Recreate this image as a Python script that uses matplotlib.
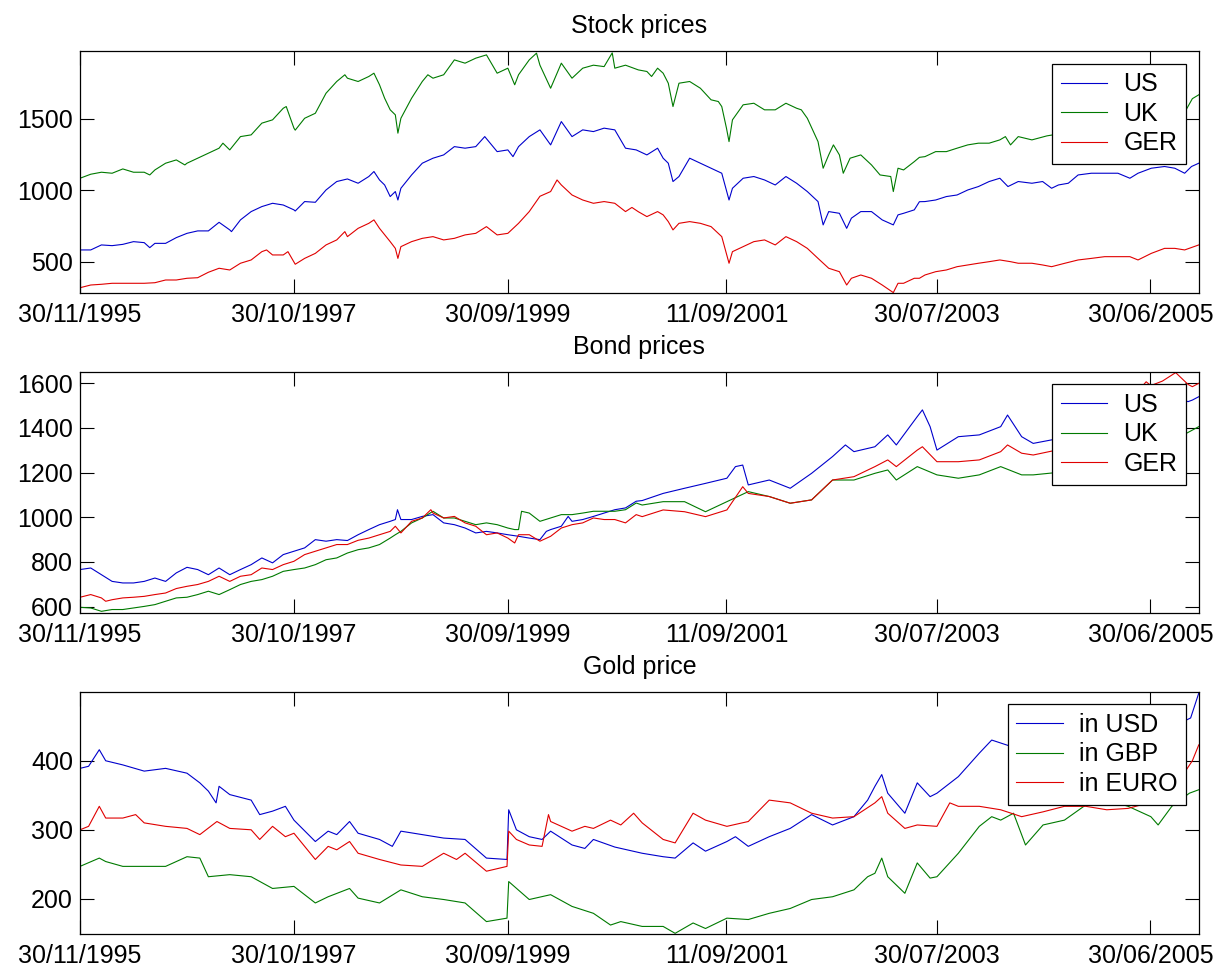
import matplotlib
matplotlib.use("Agg")
import matplotlib.pyplot as plt

plt.rcParams['font.family'] = ['Liberation Sans', 'DejaVu Sans']

# x positions are observation numbers (trading days since 30/11/1995)
tick_pos = [0, 500, 1000, 1511, 2002, 2502]
tick_labels = ['30/11/1995', '30/10/1997', '30/09/1999', '11/09/2001', '30/07/2003', '30/06/2005']
n_obs = 2615

# ---- stock prices ----
stock_us_t = [0, 25, 50, 75, 100, 125, 150, 163, 175, 200, 225, 250, 275, 300, 325, 350, 354, 375, 400, 425,
              450, 475, 500, 503, 525, 550, 575, 600, 625, 650, 675, 687, 700, 712, 725, 737, 743, 750, 775,
              800, 825, 850, 875, 900, 925, 946, 975, 1000, 1012, 1025, 1050, 1075, 1100, 1125, 1150, 1175,
              1200, 1225, 1250, 1275, 1300, 1325, 1350, 1363, 1375, 1386, 1400, 1425, 1450, 1475, 1500, 1517,
              1525, 1550, 1575, 1600, 1625, 1650, 1675, 1700, 1725, 1737, 1750, 1775, 1792, 1803, 1825, 1850,
              1875, 1901, 1912, 1925, 1950, 1962, 1975, 2000, 2025, 2050, 2075, 2100, 2125, 2150, 2169, 2193,
              2225, 2250, 2271, 2287, 2310, 2333, 2364, 2395, 2426, 2454, 2473, 2504, 2535, 2559, 2582, 2598,
              2615]
stock_us = [583, 583, 618, 613, 622, 641, 634, 599, 629, 629, 669, 699, 716, 716, 776, 723, 711, 793, 851, 886,
            909, 897, 863, 855, 921, 916, 1002, 1061, 1079, 1049, 1096, 1131, 1072, 1037, 956, 991, 932, 1014,
            1107, 1189, 1224, 1247, 1305, 1294, 1305, 1375, 1270, 1282, 1235, 1305, 1375, 1422, 1317, 1480,
            1375, 1422, 1410, 1434, 1422, 1294, 1282, 1247, 1294, 1224, 1189, 1061, 1096, 1224, 1189, 1154,
            1119, 932, 1014, 1084, 1096, 1072, 1037, 1096, 1049, 991, 921, 758, 851, 839, 734, 805, 851, 851,
            793, 758, 828, 839, 863, 920, 921, 932, 956, 967, 1002, 1026, 1061, 1084, 1026, 1061, 1049, 1061,
            1014, 1037, 1049, 1107, 1119, 1119, 1119, 1084, 1119, 1154, 1166, 1154, 1119, 1166, 1189]

stock_uk_t = [0, 25, 50, 75, 100, 125, 150, 163, 175, 200, 225, 245, 250, 275, 300, 325, 334, 350, 375, 400,
              425, 450, 475, 482, 500, 503, 525, 550, 575, 600, 619, 625, 650, 675, 687, 700, 712, 725, 737,
              743, 750, 775, 800, 813, 825, 850, 875, 900, 925, 950, 975, 1000, 1016, 1025, 1050, 1067, 1075,
              1100, 1125, 1150, 1175, 1200, 1225, 1244, 1250, 1275, 1305, 1325, 1336, 1350, 1363, 1375, 1386,
              1400, 1425, 1450, 1475, 1492, 1500, 1511, 1517, 1525, 1550, 1575, 1600, 1625, 1650, 1675, 1686,
              1700, 1725, 1737, 1750, 1761, 1775, 1784, 1800, 1825, 1850, 1870, 1895, 1901, 1912, 1925, 1950,
              1962, 1975, 2000, 2025, 2050, 2075, 2100, 2125, 2150, 2163, 2175, 2193, 2208, 2225, 2260, 2300,
              2350, 2400, 2450, 2500, 2550, 2585, 2600, 2615]
stock_uk = [1084, 1112, 1126, 1119, 1149, 1126, 1126, 1107, 1142, 1189, 1212, 1177, 1189, 1224, 1259, 1294, 1329,
            1282, 1375, 1387, 1469, 1492, 1573, 1585, 1434, 1420, 1503, 1538, 1678, 1760, 1807, 1783, 1760,
            1795, 1818, 1737, 1643, 1562, 1527, 1399, 1503, 1643, 1760, 1807, 1783, 1807, 1911, 1888, 1923,
            1946, 1818, 1853, 1737, 1807, 1911, 1958, 1874, 1713, 1888, 1783, 1853, 1874, 1864, 1960, 1853,
            1874, 1841, 1830, 1795, 1853, 1818, 1748, 1585, 1748, 1760, 1713, 1632, 1620, 1585, 1434, 1340,
            1492, 1597, 1608, 1562, 1562, 1608, 1573, 1562, 1503, 1340, 1154, 1247, 1317, 1247, 1119, 1224,
            1247, 1177, 1107, 1096, 991, 1154, 1142, 1200, 1230, 1235, 1270, 1270, 1294, 1317, 1329, 1329,
            1352, 1375, 1317, 1375, 1364, 1352, 1380, 1400, 1420, 1450, 1470, 1500, 1520, 1560, 1640, 1667]

stock_ger_t = [0, 25, 50, 75, 100, 125, 150, 175, 200, 225, 250, 275, 300, 325, 350, 375, 400, 425, 436, 450,
               475, 486, 503, 525, 550, 575, 600, 619, 625, 650, 675, 687, 700, 725, 737, 743, 750, 775, 800,
               825, 850, 875, 900, 925, 950, 975, 1000, 1025, 1050, 1075, 1100, 1115, 1125, 1150, 1175, 1200,
               1225, 1250, 1275, 1290, 1305, 1325, 1350, 1363, 1375, 1386, 1400, 1425, 1450, 1475, 1500, 1517,
               1525, 1550, 1575, 1600, 1625, 1650, 1675, 1700, 1725, 1750, 1775, 1792, 1803, 1825, 1850, 1875,
               1901, 1912, 1925, 1950, 1962, 1975, 2000, 2025, 2050, 2075, 2100, 2125, 2150, 2175, 2193, 2225,
               2250, 2271, 2302, 2333, 2364, 2395, 2426, 2454, 2473, 2504, 2535, 2559, 2582, 2615]
stock_ger = [319, 338, 343, 350, 350, 350, 350, 354, 373, 373, 385, 389, 427, 455, 443, 490, 513, 571, 583, 548,
             548, 571, 483, 524, 559, 618, 653, 711, 676, 734, 769, 793, 734, 641, 594, 524, 606, 641, 664,
             676, 653, 664, 688, 699, 746, 688, 699, 769, 851, 958, 991, 1072, 1037, 967, 932, 909,
             921, 909, 851, 880, 850, 816, 851, 828, 781, 723, 769, 781, 769, 746, 676, 490,
             571, 606, 641, 653, 618, 676, 641, 594, 524, 455, 431, 338, 385, 408, 385, 338,
             285, 350, 350, 385, 385, 408, 431, 443, 466, 478, 490, 501, 513, 501, 490, 490,
             478, 466, 490, 513, 524, 536, 536, 536, 513, 559, 594, 594, 583, 618]

# ---- bond prices ----
bond_us_t = [0, 25, 50, 75, 100, 125, 150, 175, 200, 225, 250, 275, 300, 325, 350, 375, 400, 425, 450, 475,
             500, 525, 550, 575, 600, 625, 650, 675, 700, 725, 737, 742, 750, 775, 800, 825, 850, 875, 900,
             925, 950, 975, 1000, 1025, 1050, 1075, 1090, 1100, 1125, 1141, 1150, 1175, 1200, 1225, 1250, 1275,
             1300, 1314, 1363, 1413, 1462, 1512, 1532, 1549, 1562, 1611, 1660, 1710, 1759, 1789, 1809, 1858,
             1888, 1908, 1957, 1969, 1987, 2003, 2053, 2102, 2152, 2168, 2201, 2228, 2280, 2330, 2380, 2430,
             2480, 2530, 2570, 2590, 2600, 2615]
bond_us = [766, 773, 743, 713, 706, 706, 713, 728, 713, 751, 776, 766, 743, 773, 743, 766, 788, 818, 796, 833,
           848, 863, 900, 893, 900, 896, 922, 945, 967, 982, 990, 1034, 990, 990, 1004, 1012, 975, 967, 952,
           930, 937, 930, 922, 915, 907, 900, 937, 945, 960, 1004, 982, 990, 1004, 1019, 1034, 1042,
           1072, 1075, 1107, 1130, 1152, 1175, 1227, 1234, 1145, 1167, 1130, 1197, 1272, 1324, 1294, 1316,
           1369, 1324, 1451, 1481, 1406, 1301, 1361, 1369, 1406, 1458, 1361, 1331, 1350, 1390, 1420, 1450,
           1480, 1500, 1530, 1518, 1525, 1540]

bond_uk_t = [0, 25, 50, 75, 100, 125, 150, 175, 200, 225, 250, 275, 300, 325, 350, 375, 400, 425, 450, 475,
             500, 525, 550, 575, 600, 625, 650, 675, 700, 725, 737, 750, 775, 800, 825, 850, 875, 900, 925,
             950, 975, 1000, 1016, 1025, 1032, 1050, 1075, 1100, 1125, 1150, 1175, 1200, 1225, 1250, 1275,
             1300, 1314, 1363, 1413, 1462, 1512, 1562, 1611, 1660, 1710, 1759, 1809, 1858, 1888, 1908, 1957,
             2003, 2053, 2102, 2152, 2201, 2228, 2280, 2330, 2380, 2430, 2480, 2530, 2586, 2615]
bond_uk = [597, 594, 579, 587, 587, 594, 601, 609, 624, 639, 642, 654, 669, 654, 676, 699, 713, 721, 736, 758,
           766, 773, 788, 810, 818, 840, 855, 863, 878, 907, 922, 937, 975, 997, 1027, 997, 997, 982, 967,
           975, 967, 952, 945, 945, 1027, 1019, 982, 997, 1012, 1012, 1019, 1027, 1027, 1027, 1034,
           1064, 1055, 1070, 1070, 1025, 1070, 1115, 1093, 1063, 1078, 1167, 1167, 1197, 1212, 1167, 1227,
           1190, 1175, 1190, 1227, 1190, 1190, 1200, 1220, 1240, 1270, 1300, 1330, 1376, 1406]

bond_ger_t = [0, 25, 50, 60, 75, 100, 125, 150, 175, 200, 225, 250, 275, 300, 325, 350, 375, 400, 425, 450,
              475, 500, 525, 550, 575, 600, 625, 650, 675, 700, 725, 737, 750, 775, 800, 820, 825, 850, 875,
              900, 925, 950, 975, 1000, 1016, 1025, 1050, 1075, 1100, 1125, 1150, 1175, 1200, 1225, 1250, 1275,
              1300, 1314, 1363, 1413, 1462, 1512, 1549, 1562, 1611, 1660, 1710, 1759, 1809, 1858, 1888, 1908,
              1957, 1969, 2003, 2053, 2102, 2152, 2168, 2201, 2228, 2280, 2330, 2380, 2430, 2492, 2503, 2530,
              2561, 2590, 2600, 2615]
bond_ger = [642, 654, 639, 624, 631, 639, 642, 646, 654, 661, 681, 691, 699, 713, 736, 713, 736, 743, 773, 766,
            788, 803, 833, 848, 863, 878, 878, 897, 907, 922, 937, 960, 930, 982, 997, 1034, 1019, 997, 1004,
            975, 960, 922, 930, 907, 885, 922, 922, 893, 915, 952, 967, 975, 997, 990, 990, 975,
            1012, 1003, 1033, 1025, 1003, 1033, 1137, 1107, 1093, 1063, 1078, 1167, 1182, 1227, 1257, 1227,
            1301, 1316, 1249, 1249, 1257, 1294, 1324, 1287, 1279, 1300, 1340, 1400, 1470, 1607, 1590, 1610,
            1648, 1595, 1585, 1600]

# ---- gold price ----
gold_usd_t = [0, 20, 45, 60, 100, 150, 200, 250, 280, 300, 318, 325, 350, 400, 420, 450, 480, 500, 550, 580,
              600, 630, 650, 700, 730, 750, 800, 850, 900, 950, 998, 1002, 1020, 1050, 1080, 1100, 1150, 1180,
              1200, 1250, 1314, 1363, 1391, 1433, 1462, 1512, 1532, 1562, 1611, 1660, 1710, 1759, 1809, 1841,
              1858, 1874, 1888, 1928, 1957, 1987, 2003, 2053, 2102, 2131, 2180, 2230, 2280, 2330, 2380, 2430,
              2480, 2530, 2570, 2586, 2596, 2615]
gold_usd = [389, 392, 416, 400, 394, 385, 389, 382, 368, 356, 339, 363, 351, 343, 322, 327, 334, 314, 283, 298,
            293, 312, 295, 286, 276, 298, 293, 288, 286, 259, 257, 329, 300, 290, 286, 298, 278, 273,
            286, 275, 266, 261, 259, 281, 269, 283, 290, 276, 290, 302, 322, 307, 319, 343,
            363, 380, 353, 324, 368, 348, 353, 377, 411, 430, 420, 430, 410, 420, 430, 425,
            440, 430, 440, 459, 462, 498]

gold_gbp_t = [0, 45, 60, 100, 150, 200, 250, 280, 300, 350, 400, 450, 500, 550, 580, 630, 650, 700, 750, 800,
              850, 900, 950, 998, 1002, 1050, 1100, 1150, 1200, 1240, 1264, 1314, 1363, 1391, 1433, 1462, 1512,
              1562, 1611, 1660, 1710, 1759, 1809, 1841, 1858, 1874, 1888, 1928, 1957, 1987, 2003, 2053, 2102,
              2131, 2152, 2182, 2210, 2251, 2301, 2351, 2400, 2450, 2503, 2520, 2552, 2593, 2615]
gold_gbp = [247, 259, 254, 247, 247, 247, 261, 259, 232, 235, 232, 215, 218, 194, 203, 215, 201, 194, 213, 203,
            199, 194, 167, 172, 225, 199, 206, 189, 179, 162, 167, 160, 160, 150, 165, 157, 172,
            170, 179, 186, 199, 203, 213, 232, 237, 259, 232, 208, 252, 230, 232, 266, 305,
            319, 314, 324, 278, 307, 314, 336, 343, 334, 319, 307, 334, 353, 358]

gold_eur_t = [0, 20, 45, 60, 100, 130, 150, 200, 250, 280, 320, 350, 400, 420, 450, 480, 500, 550, 580, 600,
              630, 650, 700, 750, 800, 850, 880, 900, 950, 998, 1002, 1020, 1050, 1080, 1095, 1100, 1150, 1180,
              1200, 1240, 1264, 1294, 1314, 1363, 1391, 1433, 1462, 1512, 1562, 1611, 1660, 1710, 1759, 1809,
              1858, 1874, 1888, 1928, 1957, 2003, 2033, 2053, 2102, 2152, 2201, 2251, 2301, 2351, 2400, 2450,
              2503, 2552, 2586, 2600, 2615]
gold_eur = [300, 305, 334, 317, 317, 322, 310, 305, 302, 293, 312, 302, 300, 286, 305, 290, 295, 257, 276, 271,
            283, 266, 257, 249, 247, 266, 257, 266, 240, 247, 298, 286, 278, 276, 322, 312, 298, 305,
            302, 314, 307, 324, 310, 286, 281, 324, 314, 305, 312, 343, 339, 324, 317, 319,
            339, 348, 324, 302, 307, 305, 339, 334, 334, 329, 319, 326, 334, 334, 329, 331,
            340, 338, 387, 400, 423]

col_b = '#0000cc'
col_g = '#007a00'
col_r = '#e00000'

fig = plt.figure(figsize=(12.2, 9.68), dpi=100)

panels = [
    ('Stock prices', [0.0656, 0.697, 0.917, 0.2503], (280, 1973), [500, 1000, 1500],
     [(stock_us_t, stock_us, col_b, 'US'), (stock_uk_t, stock_uk, col_g, 'UK'),
      (stock_ger_t, stock_ger, col_r, 'GER')]),
    ('Bond prices', [0.0656, 0.3664, 0.917, 0.2496], (570, 1652), [600, 800, 1000, 1200, 1400, 1600],
     [(bond_us_t, bond_us, col_b, 'US'), (bond_uk_t, bond_uk, col_g, 'UK'),
      (bond_ger_t, bond_ger, col_r, 'GER')]),
    ('Gold price', [0.0656, 0.0351, 0.917, 0.2503], (149, 500), [200, 300, 400],
     [(gold_usd_t, gold_usd, col_b, 'in USD'), (gold_gbp_t, gold_gbp, col_g, 'in GBP'),
      (gold_eur_t, gold_eur, col_r, 'in EURO')]),
]

for title, rect, ylim, yticks, series in panels:
    ax = fig.add_axes(rect)
    for t, v, c, lab in series:
        ax.plot(t, v, color=c, lw=0.8, label=lab)
    ax.set_xlim(0, n_obs)
    ax.set_ylim(*ylim)
    ax.set_xticks(tick_pos)
    ax.set_xticklabels(tick_labels)
    ax.set_yticks(yticks)
    ax.tick_params(direction='in', top=True, right=True, length=10, width=0.8, labelsize=18)
    ax.tick_params(axis='x', pad=7)
    ax.tick_params(axis='y', pad=5)
    for s in ax.spines.values():
        s.set_linewidth(0.9)
    ax.set_title(title, fontsize=18, pad=13)
    leg = ax.legend(loc='upper right', fontsize=18, frameon=True, fancybox=False, framealpha=1,
                    edgecolor='black', borderaxespad=0.5, labelspacing=0.22, borderpad=0.35,
                    handlelength=1.85, handletextpad=0.65)
    leg.get_frame().set_linewidth(0.9)

fig.savefig('out.png', dpi=100)
